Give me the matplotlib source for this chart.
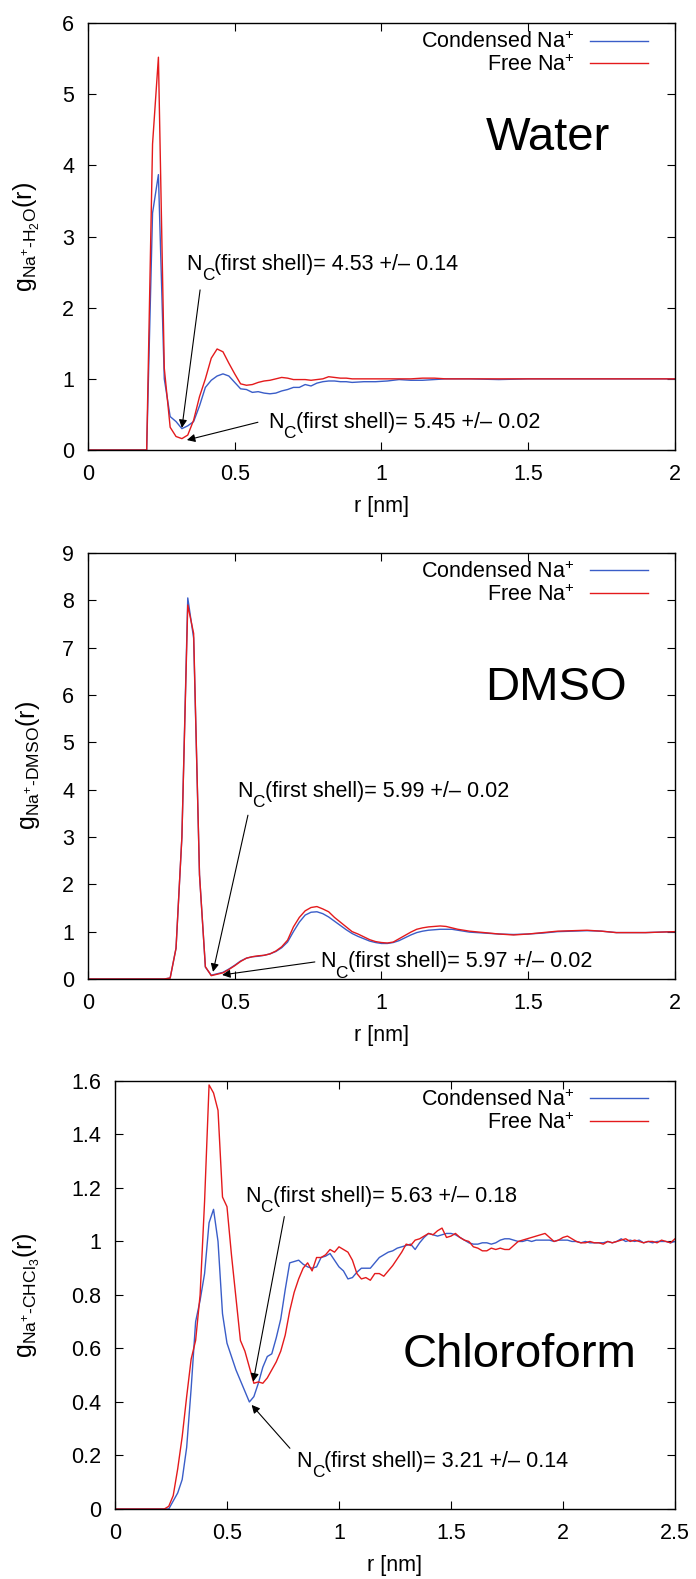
"""
Fonctions de distribution radiale Na+ - solvant (eau, DMSO, chloroforme)
"""

import matplotlib
matplotlib.use('Agg')
import matplotlib.pyplot as plt
from matplotlib.ticker import FuncFormatter

plt.rcParams['font.family'] = ['Liberation Sans', 'DejaVu Sans']
plt.rcParams['mathtext.fontset'] = 'custom'
plt.rcParams['mathtext.rm'] = 'Liberation Sans'
plt.rcParams['mathtext.it'] = 'Liberation Sans:italic'
plt.rcParams['mathtext.bf'] = 'Liberation Sans:bold'

BLEU = '#3a5dc8'
ROUGE = '#e41a1c'
TAILLE = 15.5

# --- eau ---
r_eau = [0.0, 0.20, 0.22, 0.24, 0.26, 0.28, 0.30, 0.32, 0.34, 0.36,
         0.38, 0.40, 0.42, 0.44, 0.46, 0.48, 0.50, 0.52, 0.54, 0.56,
         0.58, 0.60, 0.62, 0.64, 0.66, 0.68, 0.70, 0.72, 0.74, 0.76,
         0.78, 0.80, 0.82, 0.84, 0.86, 0.88, 0.90, 0.94, 0.98, 1.02,
         1.06, 1.10, 1.14, 1.18, 1.22, 1.30, 1.40, 1.50, 1.60, 1.70,
         1.80, 1.90, 2.00]
g_eau_cond = [0, 0, 3.33, 3.87, 1.0, 0.47, 0.40, 0.30, 0.34, 0.40,
              0.62, 0.88, 0.98, 1.04, 1.07, 1.04, 0.95, 0.86, 0.85, 0.81,
              0.82, 0.80, 0.79, 0.80, 0.83, 0.85, 0.88, 0.88, 0.92, 0.90,
              0.94, 0.96, 0.97, 0.97, 0.96, 0.96, 0.95, 0.96, 0.96, 0.97,
              0.99, 0.98, 0.98, 0.99, 1.0, 1.0, 0.99, 1.0, 1.0, 1.0,
              1.0, 1.0, 1.0]
g_eau_libre = [0, 0, 4.3, 5.52, 1.15, 0.32, 0.19, 0.16, 0.21, 0.42,
               0.75, 1.0, 1.29, 1.42, 1.38, 1.22, 1.07, 0.93, 0.91, 0.92,
               0.95, 0.97, 0.98, 1.0, 1.02, 1.01, 0.99, 0.99, 0.99, 0.98,
               0.99, 1.0, 1.03, 1.02, 1.01, 1.01, 1.0, 1.0, 1.0, 1.0,
               1.0, 1.0, 1.01, 1.01, 1.0, 1.0, 1.0, 1.0, 1.0, 1.0,
               1.0, 1.0, 1.0]

# --- DMSO ---
r_dmso = [0.0, 0.26, 0.28, 0.30, 0.32, 0.34, 0.36, 0.38, 0.40, 0.42,
          0.44, 0.46, 0.48, 0.50, 0.52, 0.54, 0.56, 0.58, 0.60, 0.62,
          0.64, 0.66, 0.68, 0.70, 0.72, 0.74, 0.76, 0.78, 0.80, 0.82,
          0.84, 0.86, 0.88, 0.90, 0.92, 0.94, 0.96, 0.98, 1.00, 1.02,
          1.04, 1.06, 1.08, 1.10, 1.12, 1.14, 1.16, 1.18, 1.20, 1.22,
          1.24, 1.26, 1.28, 1.30, 1.35, 1.40, 1.45, 1.50, 1.55, 1.60,
          1.65, 1.70, 1.75, 1.80, 1.85, 1.90, 1.95, 2.00]
g_dmso_cond = [0, 0, 0.02, 0.65, 3.0, 8.05, 7.2, 2.2, 0.25, 0.08,
               0.11, 0.14, 0.21, 0.29, 0.38, 0.44, 0.47, 0.48, 0.50, 0.53,
               0.58, 0.66, 0.78, 1.0, 1.2, 1.35, 1.41, 1.42, 1.38, 1.31,
               1.22, 1.13, 1.04, 0.96, 0.90, 0.85, 0.80, 0.77, 0.75, 0.75,
               0.77, 0.81, 0.87, 0.93, 0.98, 1.01, 1.03, 1.04, 1.05, 1.05,
               1.05, 1.03, 1.01, 0.99, 0.97, 0.95, 0.94, 0.95, 0.97, 1.0,
               1.01, 1.02, 1.01, 0.98, 0.98, 0.98, 0.99, 1.0]
g_dmso_libre = [0, 0, 0.02, 0.65, 3.0, 7.9, 7.3, 2.2, 0.26, 0.07,
                0.10, 0.13, 0.20, 0.28, 0.37, 0.44, 0.47, 0.49, 0.50, 0.53,
                0.59, 0.68, 0.82, 1.1, 1.3, 1.44, 1.51, 1.53, 1.48, 1.42,
                1.3, 1.2, 1.1, 1.0, 0.95, 0.89, 0.83, 0.79, 0.77, 0.76,
                0.78, 0.85, 0.92, 0.99, 1.05, 1.08, 1.10, 1.11, 1.12, 1.11,
                1.08, 1.05, 1.03, 1.01, 0.98, 0.95, 0.93, 0.95, 0.98, 1.01,
                1.02, 1.03, 1.01, 0.98, 0.98, 0.98, 0.99, 1.0]

# --- chloroforme ---
r_chcl3 = [0.0, 0.20, 0.22, 0.24, 0.26, 0.28, 0.30, 0.32, 0.34, 0.36,
           0.38, 0.40, 0.42, 0.44, 0.46, 0.48, 0.50, 0.52, 0.54, 0.56,
           0.58, 0.60, 0.62, 0.64, 0.66, 0.68, 0.70, 0.72, 0.74, 0.76,
           0.78, 0.80, 0.82, 0.84, 0.86, 0.88, 0.90, 0.92, 0.94, 0.96,
           0.98, 1.00, 1.02, 1.04, 1.06, 1.08, 1.10, 1.12, 1.14, 1.16,
           1.18, 1.20, 1.22, 1.24, 1.26, 1.28, 1.30, 1.32, 1.34, 1.36,
           1.38, 1.40, 1.42, 1.44, 1.46, 1.48, 1.50, 1.52, 1.54, 1.56,
           1.58, 1.60, 1.62, 1.64, 1.66, 1.68, 1.70, 1.72, 1.74, 1.76,
           1.78, 1.80, 1.82, 1.84, 1.86, 1.88, 1.90, 1.92, 1.94, 1.96,
           1.98, 2.00, 2.02, 2.04, 2.06, 2.08, 2.10, 2.12, 2.14, 2.16,
           2.18, 2.20, 2.22, 2.24, 2.26, 2.28, 2.30, 2.32, 2.34, 2.36,
           2.38, 2.40, 2.42, 2.44, 2.46, 2.48, 2.50]
g_chcl3_cond = [0, 0, 0, 0, 0.03, 0.06, 0.11, 0.23, 0.45, 0.70,
                0.78, 0.88, 1.07, 1.12, 1.0, 0.73, 0.62, 0.57, 0.52, 0.48,
                0.44, 0.40, 0.42, 0.47, 0.53, 0.57, 0.58, 0.64, 0.71, 0.82,
                0.92, 0.925, 0.93, 0.915, 0.905, 0.90, 0.905, 0.94, 0.945, 0.955,
                0.93, 0.905, 0.89, 0.86, 0.865, 0.885, 0.90, 0.90, 0.90, 0.92,
                0.94, 0.95, 0.96, 0.965, 0.975, 0.98, 0.985, 0.99, 0.97, 0.995,
                1.015, 1.03, 1.025, 1.02, 1.025, 1.03, 1.03, 1.025, 1.015, 1.005,
                0.995, 0.99, 0.99, 0.995, 0.995, 0.99, 0.995, 1.005, 1.01, 1.01,
                1.005, 1.0, 1.0, 1.005, 1.0, 1.005, 1.005, 1.005, 1.005, 1.0,
                1.005, 1.005, 1.005, 1.0, 1.0, 0.995, 1.0, 0.995, 0.995, 0.995,
                0.995, 1.0, 0.995, 1.0, 1.01, 1.0, 1.005, 1.0, 1.005, 0.995,
                1.0, 0.995, 1.0, 1.0, 1.0, 0.995, 1.0]
g_chcl3_libre = [0, 0, 0, 0.01, 0.05, 0.15, 0.27, 0.42, 0.56, 0.63,
                 0.80, 1.15, 1.585, 1.555, 1.49, 1.166, 1.13, 0.95, 0.79, 0.63,
                 0.59, 0.53, 0.47, 0.475, 0.47, 0.49, 0.52, 0.55, 0.59, 0.65,
                 0.74, 0.81, 0.86, 0.90, 0.92, 0.89, 0.94, 0.94, 0.95, 0.97,
                 0.96, 0.98, 0.97, 0.96, 0.93, 0.88, 0.86, 0.865, 0.855, 0.88,
                 0.88, 0.87, 0.89, 0.91, 0.935, 0.96, 0.99, 0.985, 1.005, 1.01,
                 1.02, 1.03, 1.025, 1.04, 1.05, 1.015, 1.02, 1.03, 1.015, 1.005,
                 1.0, 0.98, 0.975, 0.965, 0.965, 0.975, 0.97, 0.975, 0.97, 0.97,
                 0.985, 1.0, 1.005, 1.01, 1.015, 1.02, 1.025, 1.03, 1.015, 1.0,
                 1.005, 1.015, 1.02, 1.01, 1.0, 0.995, 0.995, 1.0, 0.995, 0.995,
                 0.99, 1.0, 0.995, 1.0, 1.005, 1.01, 1.0, 1.005, 1.0, 0.995,
                 1.0, 1.0, 0.995, 1.005, 1.0, 0.995, 1.01]

# annotations : (texte apres N_C, position du texte, queue de la fleche, pointe)
annot_eau = [
    ('(first shell)= 4.53 +/\u2013 0.14', (0.336, 2.53), (0.382, 2.25), (0.320, 0.31)),
    ('(first shell)= 5.45 +/\u2013 0.02', (0.613, 0.31), (0.579, 0.39), (0.337, 0.14)),
]
annot_dmso = [
    ('(first shell)= 5.99 +/\u2013 0.02', (0.508, 3.85), (0.545, 3.46), (0.426, 0.15)),
    ('(first shell)= 5.97 +/\u2013 0.02', (0.790, 0.25), (0.773, 0.36), (0.457, 0.085)),
]
annot_chcl3 = [
    ('(first shell)= 5.63 +/\u2013 0.18', (0.580, 1.149), (0.756, 1.093), (0.617, 0.476)),
    ('(first shell)= 3.21 +/\u2013 0.14', (0.811, 0.158), (0.781, 0.227), (0.610, 0.389)),
]


def ecrire_nc(ax, pos, reste):
    # N avec un indice C bien descendu, a la gnuplot
    kw = dict(xycoords='data', textcoords='offset points', va='baseline', ha='left')
    ax.annotate('N', xy=pos, xytext=(0, 0), fontsize=TAILLE, **kw)
    ax.annotate('C', xy=pos, xytext=(11.0, -7.5), fontsize=TAILLE * 0.8, **kw)
    ax.annotate(reste, xy=pos, xytext=(20.0, 0), fontsize=TAILLE, **kw)


def panneau(ax, r, g_cond, g_libre, xmax, ymax, xpas, ypas, ylab, nom, nom_pos, annots, leg_x, lab_x):
    ax.plot(r, g_cond, color=BLEU, lw=1.0, label='Condensed Na$^{+}$')
    ax.plot(r, g_libre, color=ROUGE, lw=1.0, label='Free Na$^{+}$')
    ax.set_xlim(0, xmax)
    ax.set_ylim(0, ymax)
    ax.set_xticks([i * xpas for i in range(int(round(xmax / xpas)) + 1)])
    ax.set_yticks([i * ypas for i in range(int(round(ymax / ypas)) + 1)])
    fmt = FuncFormatter(lambda v, p: '%g' % round(v, 3))
    ax.xaxis.set_major_formatter(fmt)
    ax.yaxis.set_major_formatter(fmt)
    ax.tick_params(direction='in', top=True, right=True, length=6, width=0.8,
                   labelsize=TAILLE, pad=10)
    for s in ax.spines.values():
        s.set_linewidth(1.0)
    ax.set_xlabel('r [nm]', fontsize=TAILLE, labelpad=8)
    ax.set_ylabel(ylab, fontsize=18)
    ax.yaxis.set_label_coords(lab_x, 0.5)
    ax.text(nom_pos[0], nom_pos[1], nom, transform=ax.transAxes, fontsize=34,
            ha='center', va='center')
    for texte, pos, queue, pointe in annots:
        ax.annotate('', xy=pointe, xytext=queue,
                    arrowprops=dict(arrowstyle='-|>', color='k', lw=0.8,
                                    shrinkA=0, shrinkB=0, mutation_scale=12))
        ecrire_nc(ax, pos, texte)
    ax.legend(loc='upper right', bbox_to_anchor=(leg_x, 0.98), frameon=False,
              markerfirst=False, fontsize=TAILLE, handlelength=2.7,
              handletextpad=0.7, labelspacing=0.05, borderpad=0, borderaxespad=0)


fig = plt.figure(figsize=(6.96, 15.79), dpi=100)
ax1 = fig.add_axes([0.1264, 0.7150, 0.8434, 0.2704])
ax2 = fig.add_axes([0.1264, 0.3800, 0.8434, 0.2698])
ax3 = fig.add_axes([0.1652, 0.04433, 0.8046, 0.2711])

panneau(ax1, r_eau, g_eau_cond, g_eau_libre, 2, 6, 0.5, 1,
        'g$_{\\mathregular{Na^{+}\\text{-}H_{2}O}}$(r)', 'Water', (0.784, 0.731),
        annot_eau, 0.954, -0.079)
panneau(ax2, r_dmso, g_dmso_cond, g_dmso_libre, 2, 9, 0.5, 1,
        'g$_{\\mathregular{Na^{+}\\text{-}DMSO}}$(r)', 'DMSO', (0.797, 0.683),
        annot_dmso, 0.954, -0.079)
panneau(ax3, r_chcl3, g_chcl3_cond, g_chcl3_libre, 2.5, 1.6, 0.5, 0.2,
        'g$_{\\mathregular{Na^{+}\\text{-}CHCl_{3}}}$(r)', 'Chloroform', (0.722, 0.36),
        annot_chcl3, 0.952, -0.13)

fig.savefig('out.png', dpi=100)
